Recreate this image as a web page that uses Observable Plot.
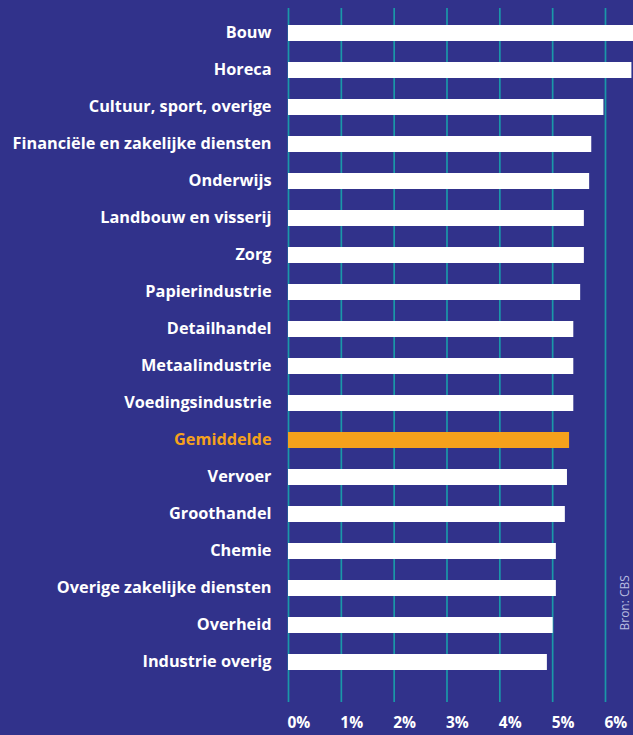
<!DOCTYPE html>
<html>
<head>
<meta charset="utf-8">
<script src="https://cdn.jsdelivr.net/npm/d3@7"></script>
<script src="https://cdn.jsdelivr.net/npm/@observablehq/plot@0.6"></script>
<style>
  html, body { margin: 0; padding: 0; background: #31328b; }
  #chart svg { display: block; }
</style>
</head>
<body>
<div id="chart"></div>
<script>
const categories = [
  "Bouw", "Horeca", "Cultuur, sport, overige", "Financiële en zakelijke diensten",
  "Onderwijs", "Landbouw en visserij", "Zorg", "Papierindustrie", "Detailhandel",
  "Metaalindustrie", "Voedingsindustrie", "Gemiddelde", "Vervoer", "Groothandel",
  "Chemie", "Overige zakelijke diensten", "Overheid", "Industrie overig"
];
const values = [
  6.6, 6.5, 5.97, 5.74,
  5.70, 5.60, 5.60, 5.53, 5.40,
  5.40, 5.40, 5.32, 5.28, 5.24,
  5.07, 5.07, 5.01, 4.90
];
const tickValues = [0, 1, 2, 3, 4, 5, 6];
const highlight = "Gemiddelde";
const source = "Bron: CBS";

const data = categories.map((name, i) => ({name, value: values[i]}));

const BG = "#31328b";
const ORANGE = "#f5a11c";
const GRID = "#1a98a8";
const FONT = "'Open Sans', 'DejaVu Sans', sans-serif";

const chart = Plot.plot({
  width: 633,
  height: 735,
  marginLeft: 288,
  marginRight: 0,
  marginTop: 8,
  marginBottom: 33,
  style: {background: BG, fontFamily: FONT},
  x: {domain: [0, 6.53], axis: null},
  y: {domain: categories, axis: null, paddingInner: 0.57, paddingOuter: 0.575, align: 0.35},
  marks: [
    Plot.ruleX(tickValues, {x: d => d, stroke: GRID, strokeWidth: 1.7}),
    Plot.barX(data, {
      x: "value", y: "name",
      fill: d => d.name === highlight ? ORANGE : "#ffffff",
      clip: true
    }),
    Plot.text(data, {
      x: () => 0, y: "name", text: "name",
      textAnchor: "end", dx: -17, dy: -1,
      fill: d => d.name === highlight ? ORANGE : "#ffffff",
      fontSize: 16.3, fontWeight: 700
    }),
    Plot.text(tickValues, {
      x: d => d, text: d => d + "%",
      frameAnchor: "bottom", lineAnchor: "top",
      textAnchor: "start", dy: 14, dx: -1,
      fill: "#ffffff", fontSize: 15.5, fontWeight: 700
    }),
    Plot.text([source], {
      frameAnchor: "bottom-right", text: d => d,
      rotate: -90, textAnchor: "start", lineAnchor: "top",
      dx: -13, dy: -72,
      fill: "#b9bde0", fontSize: 12
    })
  ]
});
document.getElementById("chart").appendChild(chart);
</script>
</body>
</html>
